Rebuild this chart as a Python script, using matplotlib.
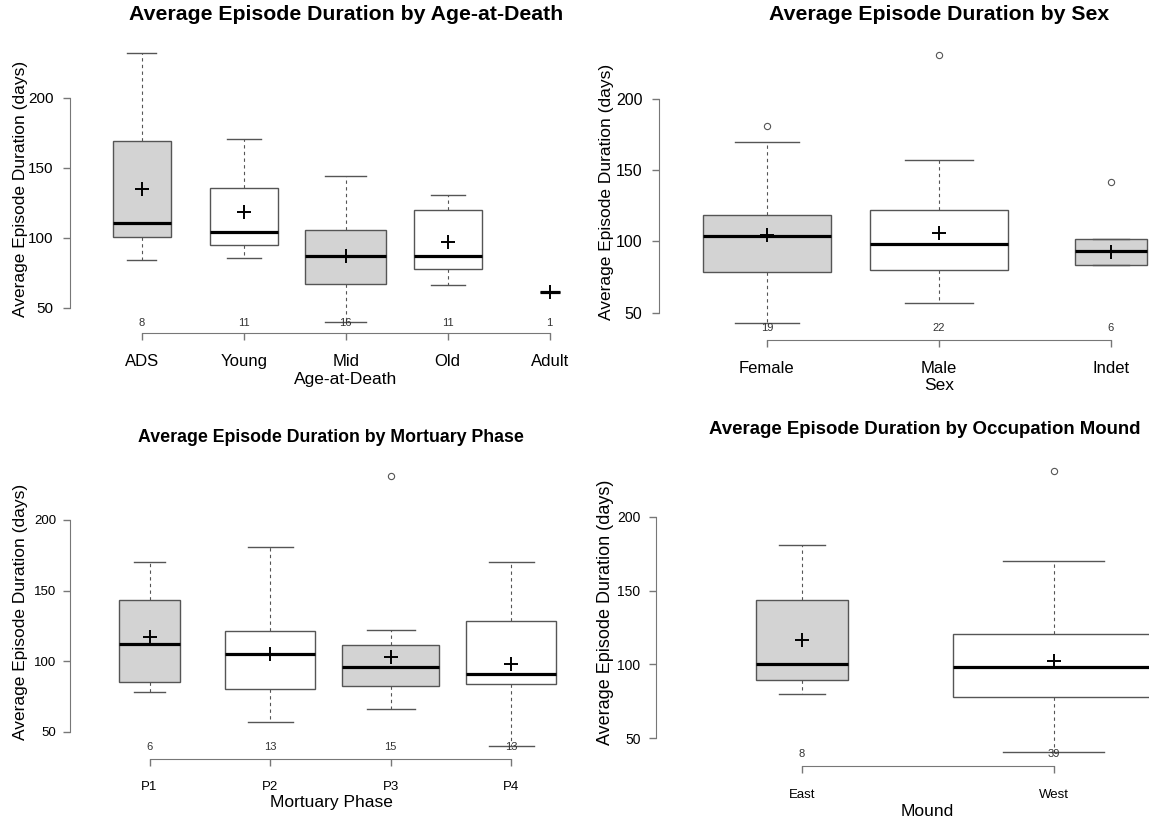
import matplotlib.pyplot as plt
import numpy as np

plt.rcParams['font.family'] = ['Liberation Sans', 'DejaVu Sans']

# summary statistics per group: whisker ends, quartiles, median, mean, outliers
age_groups = ['ADS', 'Young', 'Mid', 'Old', 'Adult']
age_n = [8, 11, 16, 11, 1]
age_lo = [84.0, 85.5, 40.0, 66.2, 61.0]
age_q1 = [100.5, 94.6, 66.7, 77.6, 61.0]
age_med = [110.7, 104.3, 86.9, 86.9, 61.0]
age_q3 = [169.3, 135.7, 105.7, 120.0, 61.0]
age_hi = [231.7, 170.5, 144.3, 130.3, 61.0]
age_mean = [134.8, 118.4, 87.0, 96.9, 61.0]
age_out = [[], [], [], [], []]

sex_groups = ['Female', 'Male', 'Indet']
sex_n = [19, 22, 6]
sex_lo = [43.0, 56.8, 83.7]
sex_q1 = [78.6, 80.0, 83.7]
sex_med = [103.9, 98.2, 93.3]
sex_q3 = [118.4, 121.9, 101.8]
sex_hi = [169.8, 157.0, 101.8]
sex_mean = [104.6, 106.0, 92.4]
sex_out = [[180.8], [230.9], [141.8]]

phase_groups = ['P1', 'P2', 'P3', 'P4']
phase_n = [6, 13, 15, 13]
phase_lo = [77.9, 56.6, 65.8, 40.0]
phase_q1 = [85.0, 80.0, 82.1, 83.8]
phase_med = [111.9, 104.8, 96.0, 91.1]
phase_q3 = [143.5, 121.1, 111.2, 128.6]
phase_hi = [170.0, 181.1, 122.0, 170.0]
phase_mean = [116.9, 105.0, 103.1, 97.7]
phase_out = [[], [], [231.2], []]

mound_groups = ['East', 'West']
mound_n = [8, 39]
mound_lo = [80.0, 40.3]
mound_q1 = [89.1, 77.8]
mound_med = [100.4, 98.2]
mound_q3 = [143.7, 120.8]
mound_hi = [181.0, 170.1]
mound_mean = [116.3, 102.0]
mound_out = [[], [231.2]]

GRAY = '#d3d3d3'
LINE = '#555555'
AXIS = '#777777'

W, H = 1149, 825
fig = plt.figure(figsize=(W / 100, H / 100), dpi=100)


def draw_panel(rect, first, step, axis_y, groups, n, lo, q1, med, q3, hi, mean, out,
               tick_size, ytick_size, xpad, ypad):
    # rect: left, y of 200, right, y of 50 (pixels from top-left)
    left, top, right, bottom = rect
    ax = fig.add_axes([left / W, 1 - bottom / H, (right - left) / W, (bottom - top) / H])
    ax.set_ylim(50, 200)
    ax.set_xlim(1 + (left - first) / step, 1 + (right - first) / step)
    ax.patch.set_visible(False)

    stats = []
    for i, g in enumerate(groups):
        stats.append(dict(label=g, whislo=lo[i], q1=q1[i], med=med[i], q3=q3[i],
                          whishi=hi[i], mean=mean[i], fliers=out[i]))
    pos = np.arange(1, len(groups) + 1)
    widths = [0.8 * np.sqrt(k / max(n)) for k in n]
    parts = ax.bxp(stats, positions=pos, widths=widths, capwidths=[w / 2 for w in widths],
                   patch_artist=True, showmeans=True, manage_ticks=False,
                   boxprops=dict(edgecolor=LINE, linewidth=1),
                   medianprops=dict(color='black', linewidth=2.3),
                   whiskerprops=dict(color=LINE, linestyle=(0, (3, 3)), linewidth=0.8),
                   capprops=dict(color=LINE, linewidth=1),
                   meanprops=dict(marker='+', markersize=10, markeredgewidth=1.4,
                                  markeredgecolor='black'),
                   flierprops=dict(marker='o', markersize=4.5, markerfacecolor='none',
                                   markeredgecolor=LINE, markeredgewidth=0.8))
    for i, box in enumerate(parts['boxes']):
        box.set_facecolor(GRAY if i % 2 == 0 else 'white')
    for key in parts:
        for artist in parts[key]:
            artist.set_clip_on(False)

    for side in ['top', 'right']:
        ax.spines[side].set_visible(False)
    ax.spines['left'].set_bounds(50, 200)
    ax.spines['bottom'].set_position(('data', axis_y))
    ax.spines['bottom'].set_bounds(1, len(groups))
    for side in ['left', 'bottom']:
        ax.spines[side].set_color(AXIS)

    ax.set_yticks([50, 100, 150, 200])
    ax.set_xticks(pos, groups)
    ax.tick_params(direction='out', length=5, color=AXIS, width=1)
    ax.tick_params(axis='x', labelsize=tick_size, pad=xpad)
    ax.tick_params(axis='y', labelsize=ytick_size, pad=ypad)

    for p, k in zip(pos, n):
        ax.text(p, 39, str(k), ha='center', va='center', fontsize=8, color='#333333')
    return ax


def label(x, y, s, size, **kw):
    fig.text(x / W, 1 - y / H, s, ha='center', va='center', fontsize=size, **kw)


# Age-at-Death
draw_panel((70, 97.7, 575, 307.7), 141.7, 102, 32, age_groups, age_n, age_lo, age_q1,
           age_med, age_q3, age_hi, age_mean, age_out, 12, 11, 10, 7)
label(346, 15, 'Average Episode Duration by Age-at-Death', 15.3, fontweight='bold')
label(21, 189, 'Average Episode Duration (days)', 12.5, rotation=90)
label(346, 379, 'Age-at-Death', 12.5)

# Sex
draw_panel((659, 99, 1149, 312.7), 766.9, 172, 30.9, sex_groups, sex_n, sex_lo, sex_q1,
           sex_med, sex_q3, sex_hi, sex_mean, sex_out, 12, 11.5, 10, 7)
label(939, 15, 'Average Episode Duration by Sex', 15.3, fontweight='bold')
label(607, 192, 'Average Episode Duration (days)', 12.5, rotation=90)
label(939, 386, 'Sex', 12.5)

# Mortuary Phase
draw_panel((70, 520, 575, 731.7), 149.5, 120.6, 30.6, phase_groups, phase_n, phase_lo,
           phase_q1, phase_med, phase_q3, phase_hi, phase_mean, phase_out, 9.5, 9.5, 11, 4.8)
label(331, 437, 'Average Episode Duration by Mortuary Phase', 12.8, fontweight='bold')
label(21, 612, 'Average Episode Duration (days)', 12.5, rotation=90)
label(331, 803, 'Mortuary Phase', 12.5)

# Occupation Mound
draw_panel((655.5, 517, 1149, 738), 802, 251.5, 31.2, mound_groups, mound_n, mound_lo,
           mound_q1, mound_med, mound_q3, mound_hi, mound_mean, mound_out, 9.5, 10, 12, 5.8)
label(925, 430, 'Average Episode Duration by Occupation Mound', 13.4, fontweight='bold')
label(606, 612, 'Average Episode Duration (days)', 13, rotation=90)
label(927, 812, 'Mound', 12.5)

fig.savefig('out.png', dpi=100)
